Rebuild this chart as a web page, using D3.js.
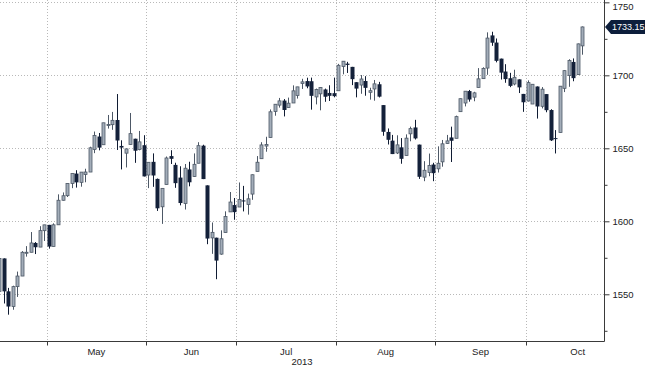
<!DOCTYPE html>
<html><head><meta charset="utf-8">
<script src="https://cdn.jsdelivr.net/npm/d3@7"></script>
<style>body{margin:0;background:#fff;}svg{display:block;}</style>
</head><body><svg id="c" width="645" height="367"></svg>
<script>
const dates = ["2013-04-16","2013-04-17","2013-04-18","2013-04-19","2013-04-22","2013-04-23","2013-04-24","2013-04-25","2013-04-26","2013-04-29","2013-04-30",
"2013-05-01","2013-05-02","2013-05-03","2013-05-06","2013-05-07","2013-05-08","2013-05-09","2013-05-10","2013-05-13","2013-05-14","2013-05-15","2013-05-16","2013-05-17","2013-05-20","2013-05-21","2013-05-22","2013-05-23","2013-05-24","2013-05-28","2013-05-29","2013-05-30","2013-05-31",
"2013-06-03","2013-06-04","2013-06-05","2013-06-06","2013-06-07","2013-06-10","2013-06-11","2013-06-12","2013-06-13","2013-06-14","2013-06-17","2013-06-18","2013-06-19","2013-06-20","2013-06-21","2013-06-24","2013-06-25","2013-06-26","2013-06-27","2013-06-28",
"2013-07-01","2013-07-02","2013-07-03","2013-07-05","2013-07-08","2013-07-09","2013-07-10","2013-07-11","2013-07-12","2013-07-15","2013-07-16","2013-07-17","2013-07-18","2013-07-19","2013-07-22","2013-07-23","2013-07-24","2013-07-25","2013-07-26","2013-07-29","2013-07-30","2013-07-31",
"2013-08-01","2013-08-02","2013-08-05","2013-08-06","2013-08-07","2013-08-08","2013-08-09","2013-08-12","2013-08-13","2013-08-14","2013-08-15","2013-08-16","2013-08-19","2013-08-20","2013-08-21","2013-08-22","2013-08-23","2013-08-26","2013-08-27","2013-08-28","2013-08-29","2013-08-30",
"2013-09-03","2013-09-04","2013-09-05","2013-09-06","2013-09-09","2013-09-10","2013-09-11","2013-09-12","2013-09-13","2013-09-16","2013-09-17","2013-09-18","2013-09-19","2013-09-20","2013-09-23","2013-09-24","2013-09-25","2013-09-26","2013-09-27","2013-09-30",
"2013-10-01","2013-10-02","2013-10-03","2013-10-04","2013-10-07","2013-10-08","2013-10-09","2013-10-10","2013-10-11","2013-10-14","2013-10-15","2013-10-16","2013-10-17"];

const open = [1552.01,1574.57,1552.03,1541.61,1555.25,1562.50,1578.78,1578.78,1585.16,1582.34,1593.58,
1597.55,1582.77,1597.60,1614.40,1617.55,1625.95,1632.69,1626.69,1632.10,1633.75,1649.13,1658.07,1652.45,1665.71,1666.20,1669.39,1651.62,1646.67,1652.63,1656.57,1649.14,1652.13,
1631.71,1640.73,1629.05,1609.94,1625.27,1644.67,1638.64,1629.94,1612.15,1635.52,1630.64,1639.77,1651.83,1624.62,1588.62,1588.77,1577.52,1592.27,1606.44,1611.12,
1609.78,1614.29,1611.48,1618.65,1634.20,1642.89,1651.56,1657.41,1675.26,1679.59,1682.70,1677.91,1681.05,1686.15,1694.41,1696.06,1695.95,1685.21,1687.31,1690.32,1687.92,1687.76,
1689.42,1706.10,1708.01,1705.79,1695.30,1693.35,1696.10,1688.37,1690.65,1693.88,1679.61,1661.22,1655.25,1646.81,1650.66,1645.03,1659.92,1664.29,1652.54,1630.25,1633.50,1638.89,
1635.95,1640.72,1653.28,1657.44,1656.85,1675.11,1681.04,1689.21,1685.04,1691.70,1697.73,1704.97,1727.34,1722.44,1711.44,1702.60,1698.02,1694.05,1697.24,1687.26,
1682.41,1680.34,1692.35,1678.79,1687.15,1676.22,1656.99,1660.88,1691.09,1699.86,1709.17,1700.49,1720.17];

const high = [1575.35,1574.57,1554.38,1555.89,1565.55,1579.58,1583.00,1592.64,1585.78,1596.65,1597.57,
1597.55,1598.60,1618.46,1619.77,1626.03,1632.78,1635.01,1633.70,1636.00,1651.10,1661.49,1660.51,1667.47,1672.84,1674.93,1687.18,1655.50,1649.78,1674.21,1656.57,1661.91,1658.99,
1640.42,1646.53,1629.31,1622.56,1644.40,1648.69,1640.13,1637.71,1639.25,1640.80,1646.50,1654.19,1652.45,1624.62,1599.19,1588.77,1593.79,1606.83,1620.07,1615.94,
1626.61,1624.26,1618.97,1632.07,1644.68,1654.18,1657.92,1676.63,1680.19,1684.51,1683.73,1684.75,1693.12,1692.09,1697.61,1698.38,1698.43,1690.94,1691.85,1690.92,1693.19,1698.43,
1707.85,1709.67,1709.24,1705.79,1695.30,1700.18,1699.42,1691.49,1696.81,1695.52,1679.61,1663.60,1659.18,1658.92,1656.99,1659.55,1664.85,1669.51,1652.54,1641.18,1646.41,1640.08,
1651.35,1655.72,1659.17,1664.83,1672.40,1684.09,1689.13,1689.97,1688.73,1704.95,1705.52,1729.44,1729.86,1725.23,1711.44,1707.63,1701.71,1703.85,1697.24,1687.26,
1696.55,1693.87,1692.35,1691.94,1687.15,1676.79,1662.47,1692.56,1703.44,1711.03,1711.57,1721.76,1733.45];

const low = [1552.01,1543.69,1536.03,1539.40,1548.19,1562.50,1575.80,1578.78,1577.56,1582.34,1586.50,
1581.28,1582.77,1597.60,1614.21,1616.64,1622.70,1623.09,1623.71,1626.74,1633.75,1646.68,1648.60,1652.45,1663.52,1662.67,1648.86,1635.53,1636.88,1652.63,1640.05,1648.61,1630.74,
1622.72,1623.62,1607.09,1598.23,1625.27,1639.26,1622.92,1610.92,1608.07,1623.96,1630.34,1639.77,1628.91,1584.32,1577.70,1560.33,1577.09,1592.27,1606.44,1601.06,
1609.78,1606.77,1604.57,1614.71,1634.20,1642.89,1647.66,1657.41,1672.33,1677.89,1671.84,1677.91,1681.05,1684.08,1690.67,1691.13,1676.49,1680.07,1676.03,1681.86,1682.42,1684.94,
1689.42,1700.68,1701.63,1693.29,1684.91,1687.36,1686.02,1683.35,1682.62,1684.83,1658.59,1652.61,1646.06,1646.08,1639.43,1645.03,1654.81,1656.02,1629.05,1627.47,1630.88,1627.47,
1633.41,1637.41,1653.07,1640.62,1656.85,1675.11,1678.70,1681.96,1682.22,1691.70,1697.73,1700.35,1720.20,1708.89,1697.10,1694.90,1691.88,1693.11,1687.86,1674.99,
1682.07,1680.34,1670.36,1677.33,1674.70,1655.03,1646.47,1660.88,1688.52,1692.13,1695.93,1700.49,1714.12];

const close = [1574.57,1552.01,1541.61,1555.25,1562.50,1578.78,1578.79,1585.16,1582.24,1593.61,1597.57,
1582.70,1597.59,1614.42,1617.50,1625.96,1632.69,1626.67,1633.70,1633.77,1650.34,1658.78,1650.47,1667.47,1666.29,1669.16,1655.35,1650.51,1649.60,1660.06,1648.36,1654.41,1630.74,
1640.42,1631.38,1608.90,1622.56,1643.38,1642.81,1626.13,1612.52,1636.36,1626.73,1639.04,1651.81,1628.93,1588.19,1592.43,1573.09,1588.03,1603.26,1613.20,1606.28,
1614.96,1614.08,1615.41,1631.89,1640.46,1652.32,1652.62,1675.02,1680.19,1682.50,1676.26,1680.91,1689.37,1692.09,1695.53,1692.39,1685.94,1690.25,1691.65,1685.33,1685.96,1685.73,
1706.87,1709.67,1707.14,1697.37,1690.91,1697.48,1691.42,1689.47,1694.16,1685.39,1661.32,1655.83,1646.06,1652.35,1642.80,1656.96,1663.50,1656.78,1630.48,1634.96,1638.17,1632.97,
1639.77,1653.08,1655.08,1655.17,1671.71,1683.99,1689.13,1683.42,1687.99,1697.60,1704.76,1725.52,1722.34,1709.91,1701.84,1697.42,1692.77,1698.67,1691.75,1681.55,
1695.00,1693.87,1678.66,1690.50,1676.12,1655.45,1656.40,1692.56,1703.20,1710.14,1698.06,1721.54,1733.15];

const yTicks = [1550, 1600, 1650, 1700, 1750];
const yMinorTicks = [1525, 1575, 1625, 1675, 1725];
const monthNames = ["May", "Jun", "Jul", "Aug", "Sep", "Oct"];
const monthTradingDays = [22, 20, 22, 22, 20, 23];
const yearLabel = "2013";
const lastLabel = "1733.15";

const W = 645, H = 367;
const plotR = 604, plotB = 341;
const svg = d3.select("#c");
const font = "'Liberation Sans',Arial,sans-serif";

const x = d3.scaleLinear().domain([0.166, 133.83]).range([0, plotR]);
const y = d3.scaleLinear().domain([1518.0, 1751.6]).range([plotB, 0]);

const data = dates.map((d, i) => ({date: new Date(d + "T00:00:00"), i, o: open[i], h: high[i], l: low[i], c: close[i]}));

const boundaries = [];
for (let i = 1; i < data.length; i++) {
  if (data[i].date.getMonth() !== data[i-1].date.getMonth()) boundaries.push(i);
}

const grid = svg.append("g");
grid.selectAll("line.h").data(yTicks).join("line")
  .attr("x1", 0).attr("x2", plotR)
  .attr("y1", d => Math.round(y(d)) + 0.5).attr("y2", d => Math.round(y(d)) + 0.5)
  .attr("stroke", "#b9b9b9").attr("stroke-width", 1).attr("stroke-dasharray", "1,2");
grid.selectAll("line.v").data(boundaries).join("line")
  .attr("x1", d => Math.round(x(d - 0.5)) + 0.5).attr("x2", d => Math.round(x(d - 0.5)) + 0.5)
  .attr("y1", 0).attr("y2", plotB)
  .attr("stroke", "#b9b9b9").attr("stroke-width", 1).attr("stroke-dasharray", "1,2");

const cg = svg.append("g");
const bw = 3;
data.forEach(d => {
  const cx = Math.round(x(d.i));
  const up = d.c >= d.o;
  const wickCol = up ? "#4d5866" : "#101c33";
  cg.append("line")
    .attr("x1", cx + 0.5).attr("x2", cx + 0.5)
    .attr("y1", y(d.h)).attr("y2", y(d.l))
    .attr("stroke", wickCol).attr("stroke-width", 1);
  const top = y(Math.max(d.o, d.c)), bot = y(Math.min(d.o, d.c));
  const hgt = Math.max(1, bot - top);
  if (up) {
    cg.append("rect")
      .attr("x", cx - 1).attr("y", top)
      .attr("width", bw).attr("height", hgt)
      .attr("fill", "#a3adb9").attr("stroke", "#4d5866").attr("stroke-width", 0.8);
  } else {
    cg.append("rect")
      .attr("x", cx - 1.5).attr("y", top)
      .attr("width", bw + 1).attr("height", hgt)
      .attr("fill", "#14213a");
  }
});

svg.append("line").attr("x1", plotR + 0.5).attr("x2", plotR + 0.5).attr("y1", 0).attr("y2", plotB + 0.5)
  .attr("stroke", "#3a3a3a").attr("stroke-width", 1);
svg.append("line").attr("x1", 0).attr("x2", plotR + 0.5).attr("y1", plotB + 0.5).attr("y2", plotB + 0.5)
  .attr("stroke", "#3a3a3a").attr("stroke-width", 1);

const yAxis = d3.axisRight(y).tickValues(yTicks).tickSize(5).tickPadding(3).tickFormat(d3.format("d"));
const ya = svg.append("g").attr("transform", `translate(${plotR + 0.5},0)`).call(yAxis);
ya.select(".domain").remove();
ya.selectAll("line").attr("stroke", "#3a3a3a");
ya.selectAll("text").attr("fill", "#222").style("font-family", font).style("font-size", "9.5px");
// keep the top label inside the picture
ya.selectAll(".tick").filter(d => y(d) < 6).select("text").attr("y", d => 6 - y(d));
const yMinor = d3.axisRight(y).tickValues(yMinorTicks).tickSize(3).tickFormat("");
const ym = svg.append("g").attr("transform", `translate(${plotR + 0.5},0)`).call(yMinor);
ym.select(".domain").remove();
ym.selectAll("line").attr("stroke", "#3a3a3a");

svg.append("g").selectAll("line").data(boundaries).join("line")
  .attr("x1", d => Math.round(x(d - 0.5)) + 0.5).attr("x2", d => Math.round(x(d - 0.5)) + 0.5)
  .attr("y1", plotB + 0.5).attr("y2", plotB + 4.5)
  .attr("stroke", "#3a3a3a");

svg.append("g").selectAll("text").data(boundaries).join("text")
  .attr("x", (d, k) => x(d + (monthTradingDays[k] - 1) / 2))
  .attr("y", 355)
  .attr("text-anchor", "middle")
  .style("font-family", font).style("font-size", "9.5px").attr("fill", "#222")
  .text((d, k) => monthNames[k]);

svg.append("text").attr("x", plotR / 2).attr("y", 365).attr("text-anchor", "middle")
  .style("font-family", font).style("font-size", "9.5px").attr("fill", "#222").text(yearLabel);

const lastY = y(close[close.length - 1]);
svg.append("path")
  .attr("d", `M${plotR + 1},${lastY} L${plotR + 7},${lastY - 7} L${W},${lastY - 7} L${W},${lastY + 7} L${plotR + 7},${lastY + 7} Z`)
  .attr("fill", "#0d1e3b");
svg.append("text").attr("x", plotR + 8).attr("y", lastY + 3.3)
  .style("font-family", font).style("font-size", "9px").attr("fill", "#fff").text(lastLabel);
</script>
</body></html>
